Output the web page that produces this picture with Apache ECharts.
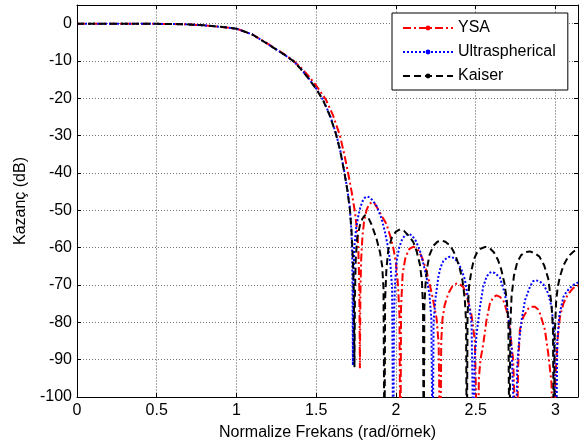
<!DOCTYPE html>
<html><head><meta charset="utf-8">
<script src="https://cdn.jsdelivr.net/npm/echarts@6/dist/echarts.min.js"></script>
<style>html,body{margin:0;padding:0;background:#fff}#c{width:580px;height:446px}</style>
</head><body><div id="c"></div>
<script>
const seriesNames = ['YSA', 'Ultraspherical', 'Kaiser'];
const xTickLabels = ['0', '0.5', '1', '1.5', '2', '2.5', '3'];
const yTickLabels = ['-100','-90','-80','-70','-60','-50','-40','-30','-20','-10','0'];

const ysa = [[0,0],[0.2,0],[0.4,-0.02],[0.5,-0.05],[0.6,-0.1],[0.7,-0.2],[0.8,-0.45],[0.9,-0.85],[1.0,-1.35],[1.1,-2.9],[1.19,-5.2],[1.3,-8.2],[1.356,-9.9],[1.4,-11.6],[1.45,-13.9],
[1.5,-16.6],[1.56,-20.3],[1.605,-24.5],[1.649,-30],[1.675,-34.8],[1.70,-40],[1.722,-45],[1.743,-50.5],[1.755,-55],[1.764,-60],[1.77,-70],[1.774,-92.3],
[1.777,-72],[1.782,-63],[1.79,-57],[1.80,-53],[1.815,-50],[1.83,-48.5],[1.848,-47.8],[1.865,-48.1],[1.889,-49.8],[1.915,-51.8],[1.94,-53.6],[1.965,-57],[1.983,-60],[2.0,-64],[2.013,-70],[2.022,-78],[2.028,-120],
[2.032,-76],[2.042,-67],[2.06,-62.5],[2.085,-60.3],[2.11,-59.7],[2.14,-60.7],[2.165,-62.8],[2.19,-66],[2.213,-70],[2.235,-74.5],[2.255,-79],[2.268,-86],[2.278,-120],
[2.284,-85],[2.292,-79],[2.305,-75.5],[2.328,-72.3],[2.355,-70.3],[2.38,-69.6],[2.40,-69.8],[2.422,-70.5],[2.443,-72.7],[2.474,-78.1],[2.495,-85],[2.512,-120],
[2.52,-95],[2.53,-90],[2.547,-86],[2.568,-79.4],[2.589,-75],[2.61,-73.3],[2.63,-72.8],[2.652,-73.2],[2.673,-74.1],[2.694,-76.8],[2.715,-82],[2.735,-90],[2.758,-120],
[2.766,-92],[2.777,-82],[2.798,-78.6],[2.83,-76.3],[2.85,-75.8],[2.871,-75.8],[2.89,-76.5],[2.903,-77.6],[2.934,-82],[2.955,-88.4],[2.975,-96],[2.99,-120],
[3.0,-95],[3.015,-84],[3.028,-78.6],[3.05,-75],[3.07,-73.2],[3.09,-71.9],[3.11,-70.9],[3.13,-70.3],[3.1416,-70.1]];

const ultra = [[0,0],[0.2,0],[0.4,-0.02],[0.5,-0.05],[0.6,-0.1],[0.7,-0.2],[0.8,-0.45],[0.9,-0.85],[1.0,-1.35],[1.1,-2.9],[1.19,-5.3],[1.3,-8.3],[1.356,-10],[1.4,-11.9],[1.45,-14.5],
[1.5,-17.4],[1.544,-20.5],[1.585,-24.4],[1.624,-29.4],[1.65,-33.8],[1.675,-39.3],[1.695,-44.3],[1.71,-49],[1.72,-55],[1.726,-62],[1.73,-91.5],
[1.733,-70],[1.739,-60],[1.75,-54.9],[1.764,-51.5],[1.776,-49.3],[1.79,-47.6],[1.805,-46.6],[1.82,-46.3],[1.837,-46.6],[1.855,-47.4],[1.878,-48.8],[1.91,-52.2],[1.931,-55.8],[1.952,-60.2],[1.966,-64.7],[1.976,-71],[1.983,-120],
[1.988,-78],[1.995,-69],[2.005,-63.5],[2.02,-60],[2.04,-57.6],[2.06,-56.6],[2.08,-56.3],[2.1,-56.7],[2.125,-58.2],[2.15,-60.8],[2.17,-64],[2.19,-67.5],[2.21,-72.5],[2.222,-79],[2.23,-120],
[2.236,-80],[2.248,-73.6],[2.266,-67.8],[2.28,-65.2],[2.297,-63.6],[2.32,-62.7],[2.34,-62.4],[2.365,-62.8],[2.39,-64],[2.41,-65.8],[2.432,-68.5],[2.453,-73.6],[2.474,-80],[2.488,-120],
[2.493,-90],[2.506,-83],[2.527,-75.9],[2.547,-70.5],[2.568,-67.8],[2.585,-66.8],[2.60,-66.5],[2.62,-66.8],[2.652,-68],[2.683,-72.3],[2.704,-78],[2.725,-87],[2.752,-120],
[2.76,-92],[2.77,-86],[2.788,-79.4],[2.809,-74.1],[2.84,-70.5],[2.86,-69],[2.875,-68.7],[2.9,-69],[2.924,-69.8],[2.955,-72.3],[2.976,-75.9],[2.99,-82],[3.003,-120],
[3.012,-85],[3.025,-78],[3.05,-73.2],[3.07,-71.8],[3.09,-70.8],[3.115,-69.9],[3.1416,-69.3]];

const kaiser = [[0,0],[0.2,0],[0.4,-0.02],[0.5,-0.05],[0.6,-0.1],[0.7,-0.2],[0.8,-0.45],[0.9,-0.85],[1.0,-1.35],[1.1,-2.9],[1.19,-5.3],[1.3,-8.3],[1.356,-10],[1.4,-12],[1.45,-14.6],
[1.5,-17.5],[1.544,-20.6],[1.585,-24.6],[1.624,-29.6],[1.65,-34],[1.675,-39.5],[1.695,-44.5],[1.712,-50],[1.722,-56],[1.73,-63],[1.736,-72],[1.74,-92],
[1.743,-72],[1.748,-63],[1.757,-57.5],[1.774,-54],[1.79,-52.2],[1.806,-51.3],[1.827,-52],[1.847,-53.8],[1.878,-57.6],[1.90,-61.2],[1.914,-65],[1.922,-71],[1.928,-120],
[1.932,-74],[1.94,-66],[1.952,-60.5],[1.975,-57.2],[2.0,-55.7],[2.025,-55.1],[2.05,-55.5],[2.08,-56.8],[2.109,-58.5],[2.13,-61],[2.15,-64.5],[2.163,-69],[2.17,-76],[2.174,-120],
[2.178,-76],[2.185,-70],[2.195,-65.5],[2.21,-62],[2.235,-59.5],[2.26,-58.4],[2.285,-58.1],[2.31,-58.4],[2.339,-59.4],[2.36,-60.9],[2.38,-62.9],[2.4,-65.5],[2.418,-69],[2.432,-74],[2.44,-80],[2.444,-120],
[2.449,-78],[2.458,-70.5],[2.474,-66],[2.49,-63],[2.506,-61.5],[2.53,-60.3],[2.56,-59.8],[2.59,-60.2],[2.615,-61.3],[2.64,-63.3],[2.66,-65.8],[2.68,-69.5],[2.695,-74],[2.705,-80],[2.712,-120],
[2.717,-81],[2.725,-73],[2.74,-67.5],[2.76,-64],[2.785,-62],[2.81,-61.2],[2.84,-61],[2.87,-61.5],[2.9,-62.4],[2.93,-64.8],[2.955,-68.3],[2.975,-75],[2.985,-82],[2.99,-120],
[2.995,-84],[3.005,-74],[3.015,-70.5],[3.028,-67.8],[3.05,-64.8],[3.07,-63.2],[3.09,-62],[3.112,-61.1],[3.1416,-60.3]];

const FONT = 'Liberation Sans, Arial, Helvetica, sans-serif';
const chart = echarts.init(document.getElementById('c'), null, {renderer: 'canvas'});

function mkSeries(name, data, color, dash) {
  return {
    name: name, type: 'line', data: data, xAxisIndex: 0, yAxisIndex: 0,
    symbol: 'circle', symbolSize: 5, showSymbol: false, clip: true,
    color: color, itemStyle: {color: color},
    lineStyle: {color: color, width: 2, type: dash},
    emphasis: {disabled: true}, animation: false, silent: true
  };
}
const xCommon = {type: 'value', min: 0, max: Math.PI, interval: 0.5};
const yCommon = {type: 'value', min: -100, max: 5, interval: 10};
const frameLine = {show: true, onZero: false, lineStyle: {color: '#000', width: 1}};
const inTick = {show: true, inside: true, length: 4, lineStyle: {color: '#000'}};

chart.setOption({
  animation: false,
  textStyle: {fontFamily: FONT},
  grid: {left: 77, right: 2, top: 5, bottom: 49, containLabel: false},
  legend: {
    data: seriesNames, orient: 'vertical', left: 392, top: 13,
    itemWidth: 50, itemHeight: 6, itemGap: 8,
    padding: [7, 12, 6, 10],
    backgroundColor: '#fff', borderColor: '#000', borderWidth: 1,
    textStyle: {fontFamily: FONT, fontSize: 16, color: '#000', lineHeight: 16, padding: [0,0,0,0]},
    selectedMode: false
  },
  xAxis: [
    Object.assign({}, xCommon, {
      position: 'bottom',
      name: 'Normalize Frekans (rad/örnek)', nameLocation: 'middle', nameGap: 28,
      nameTextStyle: {fontFamily: FONT, fontSize: 16, color: '#000'},
      axisLine: frameLine, axisTick: inTick,
      axisLabel: {show: true, showMaxLabel: false, margin: 6, fontFamily: FONT, fontSize: 16, color: '#000',
        formatter: function (v) { const i = Math.round(v / 0.5); return (Math.abs(v - i * 0.5) < 1e-9 && xTickLabels[i] !== undefined) ? xTickLabels[i] : ''; }},
      splitLine: {show: true, lineStyle: {color: '#a8a8a8', width: 1, type: [2, 1]}}
    }),
    Object.assign({}, xCommon, {
      position: 'top',
      axisLine: frameLine, axisTick: inTick,
      axisLabel: {show: false}, splitLine: {show: false}
    })
  ],
  yAxis: [
    Object.assign({}, yCommon, {
      position: 'left',
      name: 'Kazanç (dB)', nameLocation: 'middle', nameGap: 46, nameRotate: 90,
      nameTextStyle: {fontFamily: FONT, fontSize: 16, color: '#000'},
      axisLine: frameLine, axisTick: inTick,
      axisLabel: {show: true, showMaxLabel: false, margin: 5, fontFamily: FONT, fontSize: 16, color: '#000',
        formatter: function (v) { const i = Math.round((v + 100) / 10); return (Math.abs(v + 100 - i * 10) < 1e-9 && yTickLabels[i] !== undefined) ? yTickLabels[i] : ''; }},
      splitLine: {show: true, lineStyle: {color: '#777', width: 1, type: [1, 2]}}
    }),
    Object.assign({}, yCommon, {
      position: 'right',
      axisLine: frameLine, axisTick: inTick,
      axisLabel: {show: false}, splitLine: {show: false}
    })
  ],
  series: [
    mkSeries(seriesNames[0], ysa, '#ff0000', [8, 3, 2, 3]),
    mkSeries(seriesNames[1], ultra, '#0000ff', [2, 2]),
    mkSeries(seriesNames[2], kaiser, '#000000', [7, 4])
  ]
});
</script>
</body></html>
